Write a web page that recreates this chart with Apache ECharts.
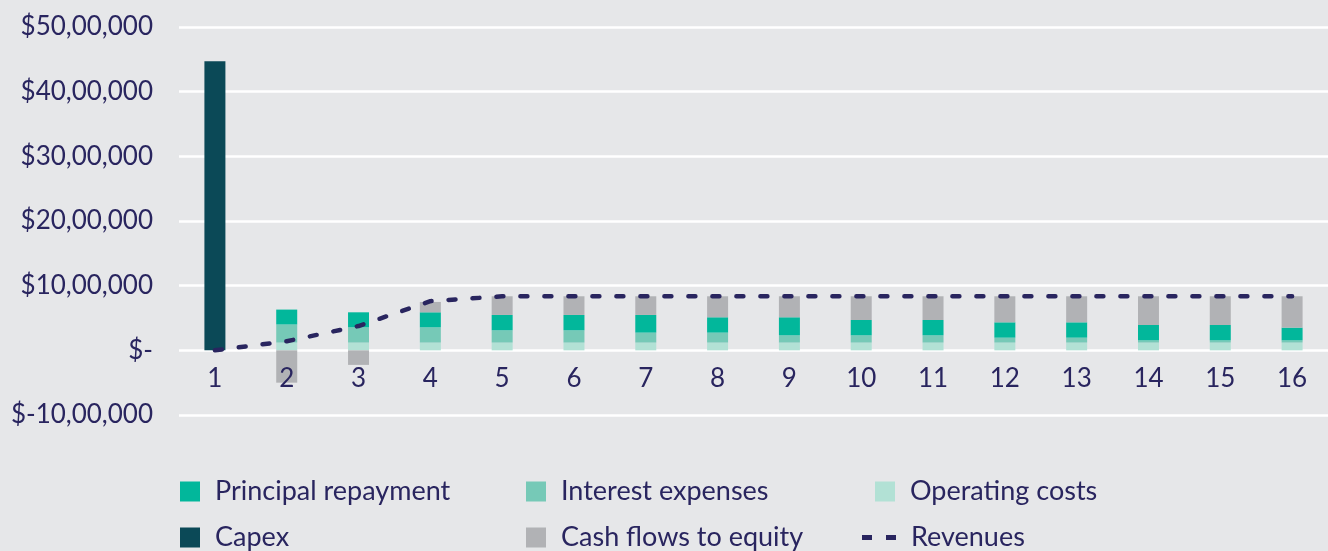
<!DOCTYPE html>
<html>
<head>
<meta charset="utf-8">
<script src="https://cdn.jsdelivr.net/npm/echarts@6/dist/echarts.min.js"></script>
<style>
  html, body { margin: 0; padding: 0; background: #e6e7e9; }
  #chart { width: 1328px; height: 551px; }
</style>
</head>
<body>
<div id="chart"></div>
<script>
var years = ['1','2','3','4','5','6','7','8','9','10','11','12','13','14','15','16'];
var operatingCosts = [0, 120000, 120000, 120000, 120000, 120000, 120000, 120000, 120000, 120000, 120000, 120000, 120000, 120000, 120000, 120000];
var interestExpenses = [0, 280000, 236000, 236000, 190000, 190000, 154000, 154000, 112000, 112000, 112000, 76000, 76000, 35000, 35000, 35000];
var principalRepayment = [0, 230000, 232000, 232000, 237000, 237000, 273000, 237000, 279000, 237000, 237000, 237000, 237000, 237000, 237000, 196000];
var cashFlowsToEquity = [0, -500000, -225000, 160000, 289000, 289000, 289000, 325000, 325000, 367000, 367000, 403000, 403000, 444000, 444000, 485000];
var capex = [4470000, 0, 0, 0, 0, 0, 0, 0, 0, 0, 0, 0, 0, 0, 0, 0];
var revenues = [0, 140000, 376000, 760000, 835000, 835000, 835000, 835000, 835000, 835000, 835000, 835000, 835000, 835000, 835000, 835000];

var navy = '#29255f';
var font = 'Lato';

// indian style grouping: 50,00,000
function inr(v) {
	if (v === 0) return '$-';
	var neg = v < 0;
	var s = String(Math.abs(v));
	var last3 = s.slice(-3);
	var rest = s.slice(0, -3);
	if (rest) {
		rest = rest.replace(/\B(?=(\d{2})+(?!\d))/g, ',');
		s = rest + ',' + last3;
	} else {
		s = last3;
	}
	return '$' + (neg ? '-' : '') + s;
}

function legendAt(name, left, top, icon, w, h, pad) {
	return {
		data: [{ name: name, icon: icon }],
		left: left,
		top: top,
		padding: 0,
		itemWidth: w,
		itemHeight: h,
		textStyle: { color: navy, fontFamily: font, fontSize: 27, padding: [0, 0, 0, pad] },
		selectedMode: false
	};
}

var chart = echarts.init(document.getElementById('chart'));
chart.setOption({
	backgroundColor: '#e6e7e9',
	animation: false,
	grid: { left: 179, right: 0, top: 27, bottom: 136 },
	legend: [
		legendAt('Principal repayment', 180, 478, 'rect', 20, 20, 10),
		legendAt('Interest expenses', 526, 478, 'rect', 20, 20, 10),
		legendAt('Operating costs', 875, 478, 'rect', 20, 20, 10),
		legendAt('Capex', 180, 524, 'rect', 20, 20, 10),
		legendAt('Cash flows to equity', 526, 524, 'rect', 20, 20, 10),
		legendAt('Revenues', 862, 524, 'path://M0,0h10v5h-10z M24,0h10v5h-10z', 34, 5, 10)
	],
	xAxis: {
		type: 'category',
		data: years,
		z: 5,
		offset: -65,
		axisLine: { show: false, onZero: false },
		axisTick: { show: false },
		axisLabel: { color: navy, fontFamily: font, fontSize: 26, margin: 16 }
	},
	yAxis: {
		type: 'value',
		min: -1000000,
		max: 5000000,
		interval: 1000000,
		axisLine: { show: false },
		axisTick: { show: false },
		splitLine: { lineStyle: { color: '#ffffff', width: 2.5 } },
		axisLabel: {
			color: navy, fontFamily: font, fontSize: 26, margin: 26,
			formatter: inr
		}
	},
	series: [
		{ name: 'Operating costs', type: 'bar', stack: 'a', barWidth: 21, data: operatingCosts, itemStyle: { color: '#b2e1d5' } },
		{ name: 'Interest expenses', type: 'bar', stack: 'a', barWidth: 21, data: interestExpenses, itemStyle: { color: '#76c9b7' } },
		{ name: 'Principal repayment', type: 'bar', stack: 'a', barWidth: 21, data: principalRepayment, itemStyle: { color: '#02b79b' } },
		{ name: 'Cash flows to equity', type: 'bar', stack: 'a', barWidth: 21, data: cashFlowsToEquity, itemStyle: { color: '#b1b2b5' } },
		{ name: 'Capex', type: 'bar', stack: 'a', barWidth: 21, data: capex, itemStyle: { color: '#0b4957' } },
		{
			name: 'Revenues', type: 'line', data: revenues, symbol: 'none', z: 4,
			itemStyle: { color: navy },
			lineStyle: { color: navy, width: 4.5, type: [7, 17], cap: 'round' }
		}
	]
});
</script>
</body>
</html>
